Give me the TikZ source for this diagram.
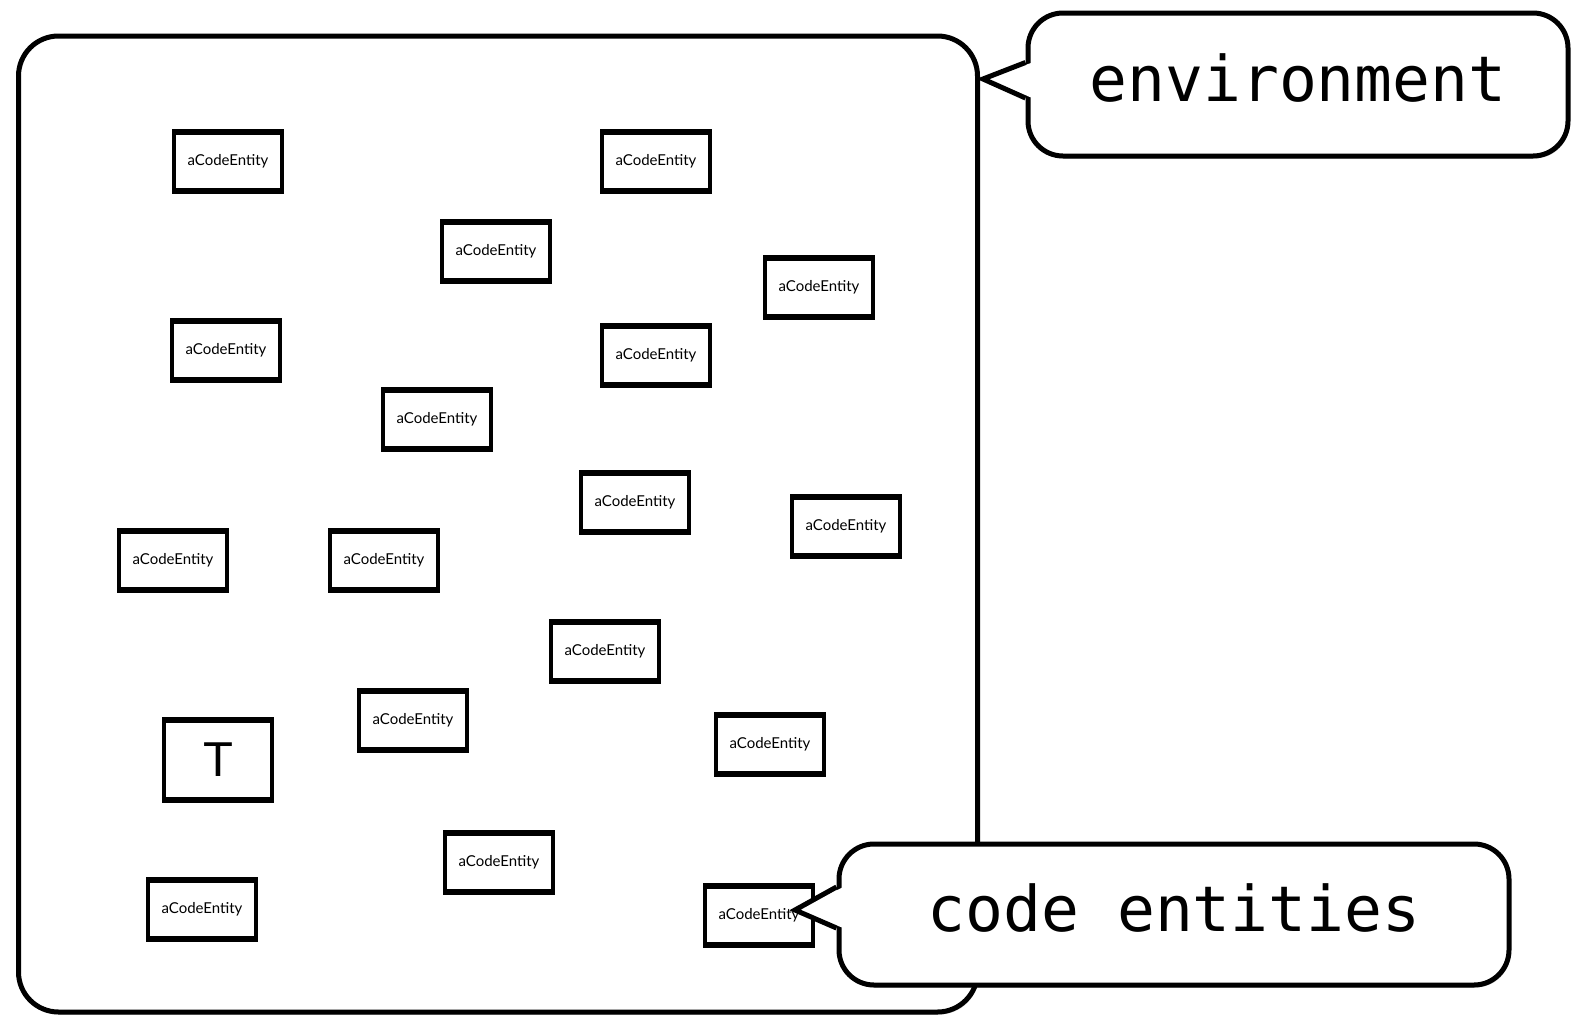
\documentclass[tikz,border=0pt]{standalone}
\usepackage{fontspec}
\usetikzlibrary{shadows}
\newfontfamily\monof{DejaVu Sans Mono}
\newfontfamily\entf{Lato}
\newfontfamily\bigsans{Liberation Sans}
\tikzset{
  x=1pt, y=-1pt,
  rule/.style={draw=black, line width=6pt, line cap=butt},
  % boxes with heavier top and bottom rules
  entity/.style={draw=black, fill=white, line width=4pt, inner sep=0pt, outer sep=0pt,
    minimum width=108pt, minimum height=59pt,
    font=\entf\fontsize{15}{17}\selectfont,
    append after command={
      ([xshift=-2pt]\tikzlastnode.north west) edge[rule] ([xshift=2pt]\tikzlastnode.north east)
      ([xshift=-2pt]\tikzlastnode.south west) edge[rule] ([xshift=2pt]\tikzlastnode.south east)
    }},
  tbox/.style={entity, minimum height=79.5pt, font=\bigsans\fontsize{49}{55}\selectfont},
  envbox/.style={draw=black, fill=white, line width=5pt, rounded corners=40pt,
    drop shadow={shadow xshift=1.5pt, shadow yshift=-2.5pt, opacity=0.25, fill=black}},
  callout/.style={draw=black, fill=white, line width=5pt, rounded corners=35pt,
    inner sep=0pt, font=\monof\fontsize{63}{70}\selectfont,
    drop shadow={shadow xshift=1.5pt, shadow yshift=-2.5pt, opacity=0.25, fill=black}},
  pointer/.style={draw=black, line width=5pt, line join=miter},
}
\begin{document}
\begin{tikzpicture}
\useasboundingbox (0,0) rectangle (1577,1015);

% the environment frame
\node[envbox, minimum width=959pt, minimum height=976pt] (env) at (498,524) {};

% code entities
\node[entity] (e1)  at (228,161) {aCodeEntity};
\node[entity] (e2)  at (656,161) {aCodeEntity};
\node[entity] (e3)  at (496,251) {aCodeEntity};
\node[entity] (e4)  at (819,287) {aCodeEntity};
\node[entity] (e5)  at (226,350) {aCodeEntity};
\node[entity] (e6)  at (656,355) {aCodeEntity};
\node[entity] (e7)  at (437,419) {aCodeEntity};
\node[entity] (e8)  at (635,502) {aCodeEntity};
\node[entity] (e9)  at (846,526) {aCodeEntity};
\node[entity] (e10) at (173,560) {aCodeEntity};
\node[entity] (e11) at (384,560) {aCodeEntity};
\node[entity] (e12) at (605,651) {aCodeEntity};
\node[tbox]   (t)   at (218,760) {T};
\node[entity] (e14) at (413,720) {aCodeEntity};
\node[entity] (e15) at (770,744) {aCodeEntity};
\node[entity] (e16) at (499,862) {aCodeEntity};
\node[entity] (e17) at (202,909) {aCodeEntity};
\node[entity] (e18) at (759,915) {aCodeEntity};

% callout naming the environment
\node[callout, minimum width=540pt, minimum height=143pt] (envnote) at (1298,84.5) {\raisebox{14pt}{environment}};
\coordinate (envtip) at (983,79);
\coordinate (envA) at ([yshift=22pt]envnote.west);
\coordinate (envB) at ([yshift=-13.5pt]envnote.west);
\fill[white] ([xshift=7pt]envA) -- (envtip) -- ([xshift=7pt]envB) -- cycle;
\draw[pointer] (envA) -- (envtip) -- (envB);

% callout naming the code entities
\node[callout, minimum width=670pt, minimum height=141pt] (codenote) at (1174,914.5) {\raisebox{14pt}{code entities}};
\coordinate (codetip) at (795,910);
\coordinate (codeA) at ([yshift=27.5pt]codenote.west);
\coordinate (codeB) at ([yshift=-13.5pt]codenote.west);
\fill[white] ([xshift=7pt]codeA) -- (codetip) -- ([xshift=7pt]codeB) -- cycle;
\draw[pointer] (codeA) -- (codetip) -- (codeB);
\end{tikzpicture}
\end{document}
